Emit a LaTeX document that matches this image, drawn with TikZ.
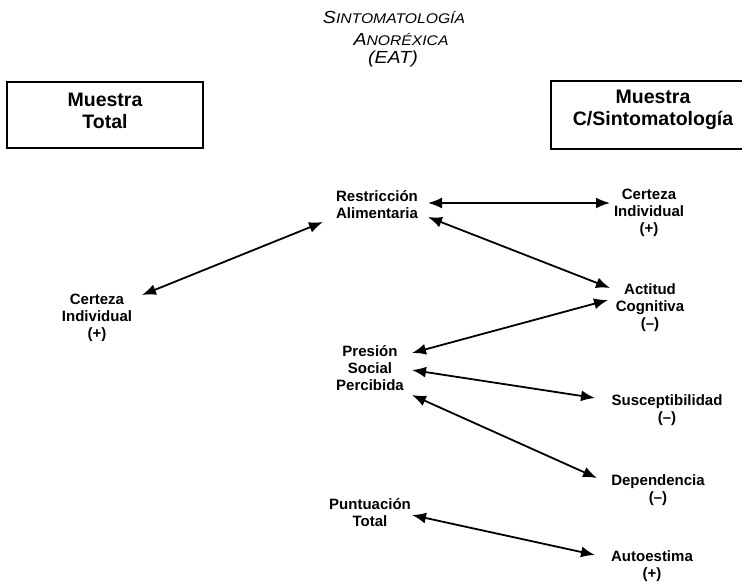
\documentclass[tikz,border=0pt]{standalone}
\usepackage{fontspec}
\setmainfont{Liberation Sans}
\newfontfamily\titlefont[FakeStretch=1.12]{Liberation Sans}
\usetikzlibrary{arrows.meta,calc}

\tikzset{
  var/.style={font=\bfseries\fontsize{15}{17}\selectfont, align=center, inner sep=0pt},
  boxtext/.style={font=\bfseries\fontsize{19.5}{22}\selectfont, align=center, inner sep=0pt},
  heading/.style={font=\titlefont\itshape, anchor=base, inner sep=0pt},
  frame/.style={draw, line width=1.8pt},
  link/.style={line width=1.8pt, {Latex[length=14pt,width=11pt]}-{Latex[length=14pt,width=11pt]}}
}
\newcommand{\capletter}[1]{{\fontsize{17.5}{20}\selectfont #1}}
\newcommand{\lowcaps}[1]{{\fontsize{14}{20}\selectfont #1}}

\begin{document}
\begin{tikzpicture}[x=1pt,y=-1pt]
  \useasboundingbox (0,0) rectangle (742,584);

  % heading
  \node[heading] (t1) at (394,23) {\capletter{S}\lowcaps{INTOMATOLOGÍA}};
  \node[heading] (t2) at (401,45) {\capletter{A}\lowcaps{NORÉXICA}};
  \node[heading] (t3) at (393,63) {\capletter{(EAT)}};

  % sample frames
  \draw[frame] (7,82) rectangle (203,148);
  \node[boxtext] (mt) at (105,111) {Muestra\\Total};
  \draw[frame] (745,81) -- (551,81) -- (551,149) -- (745,149);
  \node[boxtext] (mc) at (653,110) {Muestra\\C/Sintomatología};

  % variables
  \node[var] (restr)   at (377,205) {Restricción\\Alimentaria};
  \node[var] (certR)   at (649,213) {Certeza\\Individual\\(+)};
  \node[var] (actit)   at (650,308) {Actitud\\Cognitiva\\(–)};
  \node[var] (certL)   at (97,318)  {Certeza\\Individual\\(+)};
  \node[var] (presion) at (370,368) {Presión\\Social\\Percibida};
  \node[var] (suscep)  at (667,410) {Susceptibilidad\\(–)};
  \node[var] (depend)  at (658,490) {Dependencia\\(–)};
  \node[var] (puntu)   at (370,513) {Puntuación\\Total};
  \node[var] (autoest) at (652,566) {Autoestima\\(+)};

  % correlations
  \draw[link] ($(restr)+(51,-2)$)    -- ($(certR)+(-39,-10)$);
  \draw[link] ($(restr)+(51,12)$)    -- ($(actit)+(-40,-20)$);
  \draw[link] ($(certL)+(45,-23)$)   -- ($(restr)+(-54,17)$);
  \draw[link] ($(actit)+(-42,-8)$)   -- ($(presion)+(42,-15)$);
  \draw[link] ($(presion)+(42,2)$)   -- ($(suscep)+(-72,-12)$);
  \draw[link] ($(presion)+(42,27)$)  -- ($(depend)+(-61,-12)$);
  \draw[link] ($(puntu)+(42,2)$)     -- ($(autoest)+(-57,-11)$);
\end{tikzpicture}
\end{document}
